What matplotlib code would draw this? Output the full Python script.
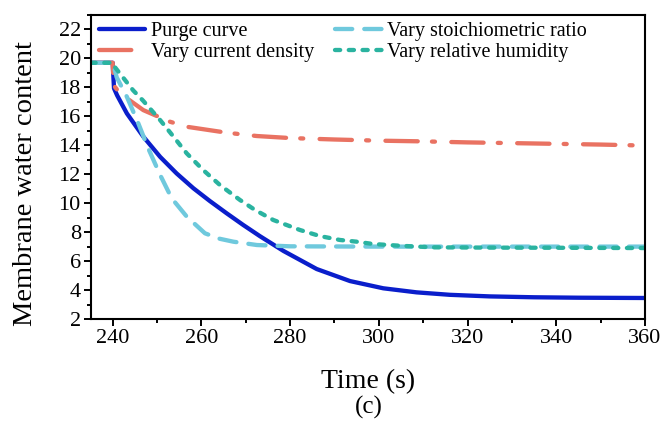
import numpy as np
import matplotlib
matplotlib.use('Agg')
import matplotlib.pyplot as plt
from matplotlib.ticker import MultipleLocator

plt.rcParams['font.family'] = ['Liberation Serif', 'DejaVu Serif']
plt.rcParams['mathtext.fontset'] = 'stix'

# 读图得到的数据 (time s, membrane water content)
t_purge = [235, 240, 240.15, 240.3, 241, 243.2, 246.9, 250.7, 254.4, 258.2, 261.9, 265.7,
           269.4, 273.2, 278.5, 286, 293.5, 301, 308.5, 316, 325, 335, 345, 360]
w_purge = [19.7, 19.7, 18.8, 17.93, 17.45, 16.2, 14.6, 13.2, 12.06, 11.03, 10.15, 9.3,
           8.5, 7.72, 6.7, 5.45, 4.62, 4.12, 3.84, 3.67, 3.56, 3.5, 3.47, 3.45]

t_stoich = [235, 240, 240.4, 240.9, 243.2, 245.8, 248, 250.7, 253.3, 256.7, 260.8,
            264, 267.2, 272.5, 280, 300, 320, 340, 360]
w_stoich = [19.7, 19.7, 19.3, 18.7, 17.35, 15.5, 13.8, 11.95, 10.34, 9.07, 7.92,
            7.55, 7.34, 7.11, 7.02, 7.0, 7.0, 7.0, 7.0]

t_current = [235, 240, 240.1, 240.5, 241.6, 246.9, 252.9, 256.7, 265.7, 272.5, 280, 290, 300,
             310, 320, 330, 340, 350, 360]
w_current = [19.7, 19.7, 18.97, 18.04, 17.6, 16.43, 15.63, 15.28, 14.87, 14.64, 14.5, 14.4, 14.32,
             14.27, 14.2, 14.15, 14.1, 14.05, 13.98]

t_humid = [235, 240, 240.5, 241.6, 244.6, 246.8, 250.7, 253.7, 256.7, 260.4, 264.2, 268.7,
           272.1, 276.2, 282.2, 286.7, 291.2, 295, 298.7, 304.8, 312.2, 325, 340, 360]
w_humid = [19.7, 19.7, 19.4, 18.97, 17.8, 17.1, 15.74, 14.6, 13.44, 12.29, 11.25, 10.22,
           9.53, 8.84, 8.15, 7.73, 7.46, 7.34, 7.18, 7.06, 6.95, 6.93, 6.92, 6.9]

fig = plt.figure(figsize=(6.64, 4.23), dpi=100)
ax = fig.add_axes([0.1363, 0.2459, 0.8351, 0.7186])

lw = 3.1
ax.plot(t_purge, w_purge, color='#0A1ECB', lw=lw, label='Purge curve', solid_capstyle='round')
ax.plot(t_current, w_current, color='#E97262', lw=lw, dashes=(7.5, 3.3, 0.7, 3.8),
        dash_capstyle='round', label='Vary current density')
ax.plot(t_stoich, w_stoich, color='#6FC9DD', lw=lw, dashes=(4, 2.8),
        dash_capstyle='round', label='Vary stoichiometric ratio')
ax.plot(t_humid, w_humid, color='#2AB3A0', lw=lw, dashes=(1.2, 2.0),
        dash_capstyle='round', label='Vary relative humidity')

ax.set_xlim(235, 360)
ax.set_ylim(2, 23)
ax.xaxis.set_major_locator(MultipleLocator(20))
ax.xaxis.set_minor_locator(MultipleLocator(10))
ax.yaxis.set_major_locator(MultipleLocator(2))
ax.yaxis.set_minor_locator(MultipleLocator(1))
ax.tick_params(which='both', direction='out', top=False, right=False, labelsize=16, width=1.4)
ax.tick_params(which='major', length=5, pad=2)
ax.tick_params(which='minor', length=3)
for s in ax.spines.values():
    s.set_linewidth(1.5)

fig.text(0.038, 0.565, 'Membrane water content', rotation=90, ha='center', va='center', fontsize=20.5)

leg = ax.legend(ncol=2, loc='upper left', bbox_to_anchor=(0.0, 1.005), frameon=False,
                fontsize=14.5, handlelength=2.33, handletextpad=0.25, columnspacing=1.05,
                labelspacing=0.12, borderaxespad=0.0)

fig.text(0.555, 0.098, 'Time (s)', ha='center', va='center', fontsize=20)
fig.text(0.555, 0.036, '(c)', ha='center', va='center', fontsize=18)

fig.savefig('out.png', dpi=100, facecolor='white')
